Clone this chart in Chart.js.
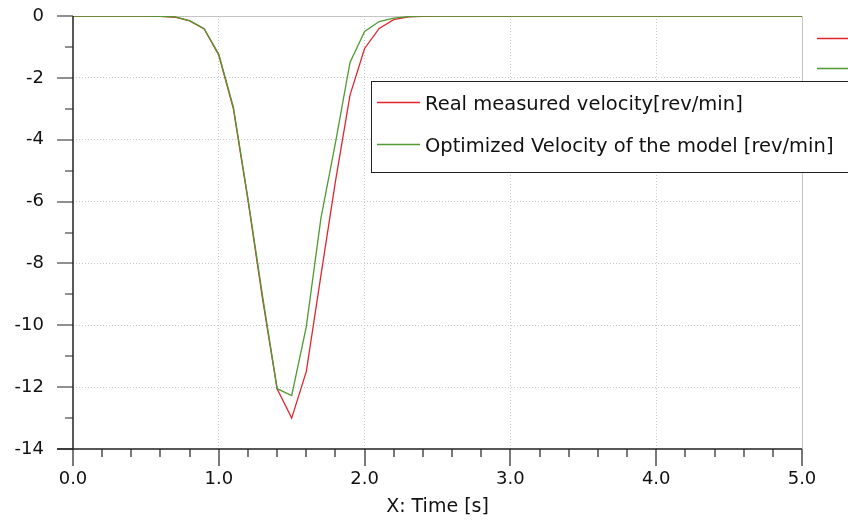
<!DOCTYPE html>
<html>
<head>
<meta charset="utf-8">
<title>Velocity</title>
<script src="https://cdn.jsdelivr.net/npm/chart.js@4.4.1/dist/chart.umd.min.js"></script>
<style>
    html, body { margin: 0; padding: 0; background: #ffffff; }
    #wrap { width: 848px; height: 520px; position: relative; }
</style>
</head>
<body>
<div id="wrap"><canvas id="myChart"></canvas></div>
<script>
"use strict";

// time samples [s]
var time = [0.0, 0.1, 0.2, 0.3, 0.4, 0.5, 0.6, 0.7, 0.8, 0.9,
            1.0, 1.1, 1.2, 1.3, 1.4, 1.5, 1.6, 1.7, 1.8, 1.9,
            2.0, 2.1, 2.2, 2.3, 2.4, 2.5, 2.6, 2.7, 2.8, 2.9,
            3.0, 3.1, 3.2, 3.3, 3.4, 3.5, 3.6, 3.7, 3.8, 3.9,
            4.0, 4.1, 4.2, 4.3, 4.4, 4.5, 4.6, 4.7, 4.8, 4.9, 5.0];

// real measured velocity [rev/min]
var measured = [0, 0, 0, 0, 0, 0, -0.01, -0.04, -0.16, -0.42,
                -1.27, -3.0, -5.95, -9.15, -12.05, -13.0, -11.5, -8.4, -5.35, -2.56,
                -1.05, -0.4, -0.12, -0.03, -0.01, 0, 0, 0, 0, 0,
                0, 0, 0, 0, 0, 0, 0, 0, 0, 0,
                0, 0, 0, 0, 0, 0, 0, 0, 0, 0, 0];

// optimized velocity of the model [rev/min]
var optimized = [0, 0, 0, 0, 0, 0, -0.01, -0.03, -0.15, -0.41,
                 -1.24, -2.95, -5.9, -9.05, -12.05, -12.27, -10.05, -6.55, -4.1, -1.5,
                 -0.5, -0.18, -0.07, -0.02, 0, 0, 0, 0, 0, 0,
                 0, 0, 0, 0, 0, 0, 0, 0, 0, 0,
                 0, 0, 0, 0, 0, 0, 0, 0, 0, 0, 0];

var seriesLabels = ['Real measured velocity[rev/min]', 'Optimized Velocity of the model [rev/min]'];
var seriesColors = ['#e3262e', '#4f9a32'];

var xTicks = [0, 1, 2, 3, 4, 5];
var xMinorStep = 0.2;
var yTicks = [0, -2, -4, -6, -8, -10, -12, -14];
var yMinorStep = 1;

var fontFamily = "'DejaVu Sans', Verdana, sans-serif";

function toPoints(values) {
    var pts = [];
    for (var i = 0; i < time.length; i++) {
        pts.push({x: time[i], y: values[i]});
    }
    return pts;
}

// grid lines only inside the frame, not on the axes / border
function innerGridColor(ctx) {
    var v = ctx.tick ? ctx.tick.value : null;
    var s = ctx.scale;
    if (v === s.min || v === s.max) return 'rgba(0,0,0,0)';
    return '#c9c9c9';
}

// Light frame under the curves; axes with major and minor ticks and the legend boxes on top
var framePlugin = {
    id: 'frame',
    beforeDatasetsDraw: function(chart) {
        var ctx = chart.ctx;
        var area = chart.chartArea;
        ctx.save();
        ctx.strokeStyle = '#c4c4c4';
        ctx.lineWidth = 1;
        ctx.beginPath();
        ctx.moveTo(area.left, area.top + 0.5);
        ctx.lineTo(area.right + 0.5, area.top + 0.5);
        ctx.lineTo(area.right + 0.5, area.bottom);
        ctx.stroke();
        ctx.restore();
    },
    afterDatasetsDraw: function(chart) {
        var ctx = chart.ctx;
        var area = chart.chartArea;
        var xs = chart.scales.x;
        var ys = chart.scales.y;
        var v, p;

        ctx.save();
        // black axes
        ctx.strokeStyle = '#222';
        ctx.lineWidth = 1.5;
        ctx.beginPath();
        ctx.moveTo(area.left, area.top);
        ctx.lineTo(area.left, area.bottom);
        ctx.moveTo(area.left - 16, area.bottom);
        ctx.lineTo(area.right, area.bottom);
        ctx.stroke();

        // x ticks
        ctx.lineWidth = 1.2;
        ctx.beginPath();
        for (v = xs.min; v <= xs.max + 1e-9; v += xMinorStep) {
            p = Math.round(xs.getPixelForValue(v));
            var major = Math.abs(v - Math.round(v)) < 1e-6;
            ctx.moveTo(p, area.bottom);
            ctx.lineTo(p, area.bottom + (major ? 17 : 8));
        }
        // y ticks
        for (v = ys.min; v <= ys.max + 1e-9; v += yMinorStep) {
            p = Math.round(ys.getPixelForValue(v));
            var majorY = Math.round(v) % 2 === 0;
            ctx.moveTo(area.left, p);
            ctx.lineTo(area.left - (majorY ? 16 : 8), p);
        }
        ctx.stroke();

        var sets = chart.data.datasets;

        // legend block outside the frame (runs past the right edge)
        ctx.lineWidth = 1.3;
        for (var k = 0; k < sets.length; k++) {
            ctx.strokeStyle = sets[k].borderColor;
            ctx.beginPath();
            ctx.moveTo(817, 38.5 + k * 30);
            ctx.lineTo(860, 38.5 + k * 30);
            ctx.stroke();
        }

        // legend box inside the plot
        var bx = 371.5, by = 81.5, bw = 490, bh = 91;
        ctx.fillStyle = '#ffffff';
        ctx.fillRect(bx, by, bw, bh);
        ctx.strokeStyle = '#222';
        ctx.lineWidth = 1;
        ctx.strokeRect(bx, by, bw, bh);

        ctx.font = '19.5px ' + fontFamily;
        ctx.textBaseline = 'alphabetic';
        ctx.textAlign = 'left';
        for (var j = 0; j < sets.length; j++) {
            var ly = 102.5 + j * 42;
            ctx.strokeStyle = sets[j].borderColor;
            ctx.lineWidth = 1.3;
            ctx.beginPath();
            ctx.moveTo(377, ly);
            ctx.lineTo(420, ly);
            ctx.stroke();
            ctx.fillStyle = '#111';
            ctx.fillText(sets[j].label, 425, ly + 7);
        }
        ctx.restore();
    }
};

var ctx = document.getElementById('myChart');
var velocityChart = new Chart(ctx, {
    type: 'line',
    data: {
        datasets: [{
            label: seriesLabels[0],
            data: toPoints(measured),
            borderColor: seriesColors[0],
            borderWidth: 1.3,
            pointRadius: 0,
            tension: 0,
            order: 1
        }, {
            // model curve drawn over the measured one
            label: seriesLabels[1],
            data: toPoints(optimized),
            borderColor: seriesColors[1],
            borderWidth: 1.3,
            pointRadius: 0,
            tension: 0,
            order: 0
        }]
    },
    options: {
        responsive: true,
        maintainAspectRatio: false,
        animation: false,
        layout: {autoPadding: false, padding: {top: 16, right: 46, left: 0, bottom: 0}},
        plugins: {
            legend: {display: false},
            tooltip: {enabled: false}
        },
        scales: {
            x: {
                type: 'linear',
                min: 0,
                max: 5,
                afterFit: function(scale) { scale.height = 71; },
                afterBuildTicks: function(scale) {
                    scale.ticks = xTicks.map(function(v) { return {value: v}; });
                },
                // tick marks themselves come from the frame plugin
                grid: {color: innerGridColor, lineWidth: 1, drawTicks: true,
                       tickLength: 17, tickColor: 'rgba(0,0,0,0)'},
                border: {display: false, dash: [1, 2]},
                ticks: {
                    color: '#111',
                    padding: 3,
                    maxRotation: 0,
                    font: {family: fontFamily, size: 18},
                    callback: function(v) { return Number(v).toFixed(1); }
                },
                title: {
                    display: true,
                    text: 'X: Time [s]',
                    color: '#111',
                    font: {family: fontFamily, size: 19},
                    padding: {top: 0, bottom: 2}
                }
            },
            y: {
                type: 'linear',
                min: -14,
                max: 0,
                afterFit: function(scale) { scale.width = 73; },
                afterBuildTicks: function(scale) {
                    scale.ticks = yTicks.map(function(v) { return {value: v}; });
                },
                grid: {color: innerGridColor, lineWidth: 1, drawTicks: true,
                       tickLength: 26, tickColor: 'rgba(0,0,0,0)'},
                border: {display: false, dash: [1, 2]},
                ticks: {
                    color: '#111',
                    padding: 3,
                    font: {family: fontFamily, size: 18}
                }
            }
        }
    },
    plugins: [framePlugin]
});
</script>
</body>
</html>
